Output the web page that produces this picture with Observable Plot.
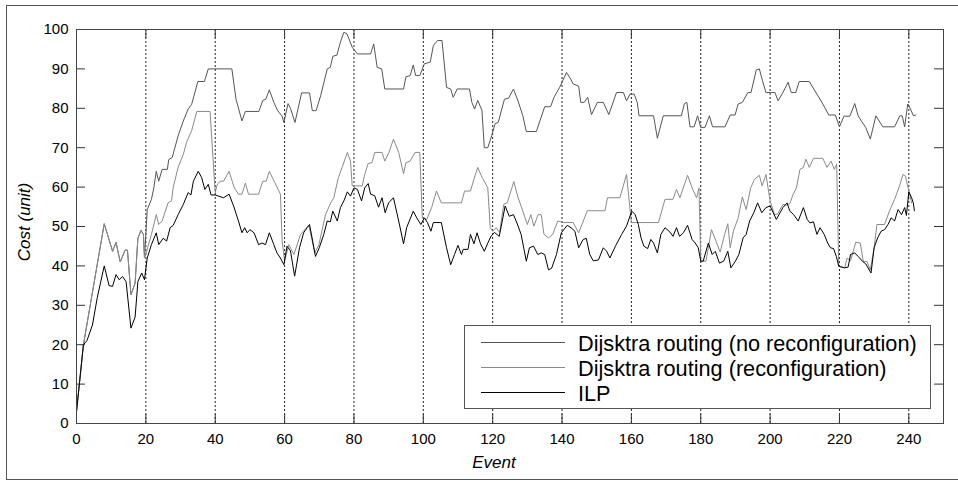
<!DOCTYPE html>
<html><head><meta charset="utf-8">
<script src="https://cdn.jsdelivr.net/npm/d3@7"></script>
<script src="https://cdn.jsdelivr.net/npm/@observablehq/plot@0.6"></script>
<style>
html,body{margin:0;padding:0;background:#fff;overflow:hidden}
#wrap{position:relative;width:958px;height:484px}
#border{position:absolute;left:6px;top:5px;width:970px;height:473px;border:1px solid #555;pointer-events:none}
</style></head>
<body><div id="wrap"><div id="chart"></div><div id="border"></div></div>
<script>
// Series as [event, cost] vertices
const noReconfiguration = [[0,3],[2,20],[8,50.7],[10.4,43.7],[11.4,46],[12.6,41],[14,44],[14.7,44],[15.7,32.7],[16.9,35.6],[17.7,47],[18.6,49],[19.3,48],[19.6,42],
[20.4,54.3],[21.6,56.9],[22.3,59.8],[23,64],[23.7,61.5],[24.7,64.5],[26.2,64.5],[26.6,67],[27.6,67.5],[29.3,73],[30.8,76.8],[32.2,79.8],[33.2,81],[35,86.8],[36.9,86.8],[38,90],[44.8,90],
[46,82.3],[47.7,76.8],[48.7,79.2],[52.6,79.2],[53.7,82],[54.6,82.3],[55.6,84.7],[56.9,81.5],[58,79.4],[59.3,78],[59.8,76.4],[61,81.2],[61.7,80],[63,76.4],[64.9,83.9],[67.2,83.9],[68,79.4],[69.1,79.4],[70.4,83.2],[72.3,90],[73.2,90.4],[73.9,93.2],[75.1,93.5],[76.1,96.8],[77.1,99.3],[78,98.9],[79.5,95.5],
[81,93.8],[84.8,93.8],[85.7,96.3],[86.7,90.4],[88,90],[88.9,84.9],[94.3,84.9],[95,88],[96.2,88.3],[97.1,91],[97.8,88.3],[99,88.3],[100.3,91.3],[102,91.7],[102.9,95.9],[104.1,97.2],[105.4,97.2],[106.7,85.3],[107.9,84.9],[108.6,82.8],[109.8,84.9],[113.3,84.9],[114,81.5],[114.8,79.8],[115.7,82],[116.9,79.5],[117.6,70],[118.6,70],[119.7,73],
[120.7,76.1],[121.6,76.4],[123.4,82.3],[124.6,82.6],[126,84.9],[127.3,81.9],[128.7,78.1],[129.7,74.1],[132.6,74.1],[135,80.4],[136.7,80.4],[137.7,82.8],[139.3,85.3],[141.3,89.1],[142.5,87.4],[143.2,86.2],[144.8,85.6],[145.4,81.5],[146.4,81.5],[147.4,82.8],[148.5,78.4],[150.2,81.5],[151.9,81.5],[153.5,78.4],[155.7,84],[157.7,84],[158.6,81.9],[159.6,83.6],
[160.8,83.6],[161.7,81.5],[162.2,78.1],[166.4,78.1],[167.5,72.4],[169.2,78.1],[174.4,78.1],[175.3,81.2],[176,81.5],[176.9,75.3],[178.1,75.3],[179.1,78.1],[180,75.1],[181.2,75.1],[182.5,78.1],[183.4,75.3],[187,75.3],[188.5,78.3],[189.9,78.3],[190.8,81.1],[192,81.5],[193.6,84],[194.5,84],[196,89.7],[196.9,90],[197.8,87],[198.8,84],
[200.2,84],[201.4,84],[202.3,81.9],[203.7,84],[205.2,86.6],[206.1,84],[207.4,84],[208.4,86.8],[211.3,86.8],[213.5,83.6],[215.2,81.1],[216.9,78.3],[218.8,78.3],[220,75.3],[221.3,78],[223,78],[224.4,81.2],[225.4,78.1],[226.3,76.8],[227.6,75.1],[228.9,72.2],[230.5,78.1],[232.5,75.3],[235.9,75.3],[237.4,78.1],[238.1,78.1],[238.8,75.3],[239.7,81.1],[240.5,79.8],[241.3,78.1],[242,78.3]];

const reconfiguration = [[0,3],[2,20],[8,50.7],[10.4,43.7],[11.4,46],[12.6,41],[14,44],[14.7,44],[15.7,32.7],[16.9,35.6],[17.7,47],[18.6,49],[19.3,48],[19.6,42],
[20,43],[21.6,48],[23,53],[23.7,50.5],[24.7,51.4],[26.4,56],[27.4,56.5],[27.9,60],[29.3,65],[30.8,68.3],[31.7,71.3],[33.2,74.3],[34.7,79.2],[38.5,79.2],[40,58.6],
[40.5,60.5],[41.4,61.5],[42.4,61.5],[44,64],[45.5,59.8],[46.7,58.2],[47.7,58.2],[48.7,61],[49.6,58.2],[52.5,58.2],[53.7,61.5],[54.7,61.5],[55.6,64],[57.2,61.1],[58.8,58.2],[59.3,46.3],[60,41.2],
[61.2,45.4],[62.7,42.9],[64.6,48],[67,50.3],[68.7,43.3],[69.9,45.4],[71.8,53],[73.3,56],[74.2,57.3],[75.5,62.4],[76.6,65],[78.1,68.8],[79,66.6],[79.5,60.3],
[82.4,60.3],[83.1,63.2],[84.1,66],[85.2,66.2],[86,68.8],[88.1,68.8],[88.9,66.6],[90.1,68.8],[91.4,72.2],[92.9,68.8],[94.3,63.4],[95,66.2],[96.2,66.6],[97.6,68.8],[99,68.8],[99.7,52.2],
[101,51.8],[102.4,54.8],[103.8,59],[105.2,56],[111,56],[111.9,59],[113.6,59],[114.6,62],[115.7,65],[117,62.4],[118.6,59.8],[119.3,49.7],
[120,48.8],[121,49.7],[122,48.5],[123.2,55.6],[124.2,56],[126.1,61.4],[127.2,57.7],[128.7,53.9],[130,50.5],[131,53],[131.9,50.1],[133.1,53],[134,53],[134.8,48],[136.1,47.1],[137.3,48],[138.8,51.4],
[140.3,51],[143.2,51],[144.8,48.4],[147.3,54],[152.4,54],[153.1,57.3],[156.7,57.3],[158.6,63.2],[160,51],
[167.8,51],[169.7,56.9],[172,56.9],[173,59.4],[174,57.3],[176.2,63],[177.7,59.4],[178.8,57.3],[179.5,59.8],[180,41.2],
[181.5,41.2],[183.1,49.2],[184.4,46.3],[185.6,43.5],[186.9,48],[187.8,50.7],[188.5,44.6],[189.4,48.8],[190.8,52.2],[192,57.5],[193.1,54.3],[194.4,59.8],[195.5,62],[196.9,63],[197.7,60.3],[198.8,63.2],
[200,56.5],[201.3,53],[202.2,53.2],[203.7,55.6],[204.7,55.4],[205.7,55.8],[206.6,58.1],[207.6,59.8],[208.6,64.5],[209.6,65],[210.3,67.1],[211.3,65],[212.5,67.3],[215.2,67.3],[216.4,65],[217.6,66.6],[218.5,64.5],[219.2,65.8],[219.8,39.9],
[221.5,39.5],[222.2,42],[223.2,41.3],[224.7,46],[226,45.8],[226.9,41],[227.9,41.2],[228.9,39],[230,44.6],[230.8,50.5],[233,50.5],[234.4,53.9],[235.9,56.9],[237.4,60.5],[238.3,63.2],[239,62.8],[240,59],[240.8,56]];

const ilp = [[0,3],[2,20],[3,21],[4.6,25],[6,32],[8,40],[9.4,35],[10.4,34.8],[11.4,37.8],[12.3,36.5],[13.3,37.3],[14.3,36],[15.7,24.2],[16.9,27],[17.7,36],[18.8,38.2],[19.6,36.5],
[20.4,42],[21.6,45.4],[23,48.4],[23.7,45.4],[25,47],[26,46.3],[27,49.7],[27.9,50.3],[29.3,53],[30.8,55.6],[32.2,58.6],[33,58],[33.7,61.5],[35.1,64],[36.1,62.4],[37,59.4],[38,60.7],[38.8,58],
[40,58],[42.4,57.3],[44,58.2],[45.3,55.2],[46.7,51.4],[47.7,48.4],[48.5,49.7],[49.2,48.4],[50,49.2],[51.2,48.4],[52.5,45.4],[53.5,45.8],[54.5,45.4],[55.6,48.4],[56.9,45.4],[57.8,43.3],[58.8,42],[59.8,40.3],
[60.7,45],[61.7,43.8],[62.9,37.4],[64.3,44.6],[65.5,48.4],[66.5,49.7],[67.2,50.5],[68.1,46.3],[68.9,42.4],[70,44.6],[71.3,48],[72.3,51.4],[73.2,51.2],[73.9,53.9],[75.2,51.4],[76.1,54.8],[77.1,56.5],[78.1,58.8],[79,57.7],
[80,59.8],[81,59.4],[82.2,56.5],[83.1,59.8],[84.1,60.9],[84.8,58.2],[86,57.8],[87.1,54.9],[88.1,57.3],[89,53.5],[90,56],[91.4,57.3],[92.9,51.4],[94.3,45.6],[95.2,49.7],[97.1,53.9],[98.1,52.2],[99.3,50.5],
[100.3,52.2],[101.2,51],[102.2,48.8],[102.9,51],[105.2,51],[106.7,44.6],[107.9,40.3],[109,42.9],[110,45.2],[111,42.9],[111.5,44.2],[112.9,44.2],[113.6,48],[114.6,45.6],[115.5,48.4],[116.5,45.6],[117.6,43.7],[118.6,45.8],[119.5,47.5],
[120.5,48.5],[121.9,47.5],[123.6,55.2],[124.8,52.6],[126,53],[127,50.9],[128.2,48],[129.7,41.2],[130.6,44.6],[131.8,45],[133,42.9],[134,43.3],[135,42.9],[136.1,39],[137,39.4],[138.4,42.9],[139.8,48.4],
[141.5,50.3],[142.6,49.7],[143.7,48.8],[144.8,44.6],[146.1,46.7],[147,47],[148,42.9],[149,41.3],[150.5,41.5],[151.9,44.6],[152.9,43.7],[153.8,42],[155.5,45.2],[157.2,48],[158.6,50.1],
[160.1,53.9],[161.1,53],[162,50.5],[162.8,47.1],[163.6,45],[164.7,44.4],[165.6,46.7],[166.4,45.8],[167.5,43.3],[168.5,48],[169.7,49.7],[171.1,48.6],[172,47.5],[173,49.7],[173.9,47.5],[175,48.4],[176.2,50.3],[177.5,46.7],[178.4,45.8],[179.3,44.6],
[180,41.2],[180.7,41.2],[182.2,45.8],[183.3,42.9],[184.2,43.7],[185.4,40.7],[186.6,41.2],[187.8,43.7],[188.7,39.5],[190,41.2],[191,42.9],[192.2,47.1],[193.1,48],[194.1,51.4],[195.3,53.5],[196.4,56],[197.6,53.5],[198.8,54.8],
[200,55.2],[200.9,53.5],[201.8,51.8],[203.7,54.8],[204.9,56],[205.7,53.9],[206.8,53],[208.1,51.4],[209.6,54.8],[210.7,51.8],[211.5,50.9],[212.5,51.2],[213.5,48],[214.4,49.7],[215.6,48],[216.6,45.8],[217.4,44.6],[218.3,44.4],[219.1,42.4],
[219.8,39.9],[220.7,39.7],[221.5,39.5],[222.5,39.7],[223.2,42.9],[224.4,43.3],[225.4,42.4],[226.6,41.2],[227.6,40.5],[229.1,38.2],[230,44.6],[231,47.1],[232,48.8],[233,49.2],[234,50.5],[234.9,52.2],[235.9,51.4],[236.9,54.3],[237.9,53],[238.8,54.8],[239.3,52.8],[240,58.8],[240.8,57.3],[241.3,56],[241.6,54]];

const seriesNames = ["Dijsktra routing (no reconfiguration)", "Dijsktra routing (reconfiguration)", "ILP"];
const seriesColors = ["#555555", "#8a8a8a", "#000000"];
const xTicks = [0,20,40,60,80,100,120,140,160,180,200,220,240];
const yTicks = [0,10,20,30,40,50,60,70,80,90,100];
const gridEvents = [20,40,60,80,100,120,140,160,180,200,220,240];
const xLabel = "Event";
const yLabel = "Cost (unit)";

const font = "'Liberation Sans', Arial, Helvetica, sans-serif";
const series = [noReconfiguration, reconfiguration, ilp];

const W = 958, H = 484, mL = 76, mR = 15, mT = 29, mB = 61;
const frameW = W - mL - mR, frameH = H - mT - mB, tickLen = 9;

const plot = Plot.plot({
  width: W, height: H,
  marginLeft: mL, marginRight: mR, marginTop: mT, marginBottom: mB,
  style: {fontFamily: font, fontSize: "15px", color: "#000", background: "#fff", overflow: "visible"},
  x: {domain: [0, 250]},
  y: {domain: [0, 100]},
  marks: [
    Plot.ruleX(gridEvents, {x: d => d, stroke: "#222", strokeDasharray: "2,2", strokeWidth: 1}),
    Plot.axisX(xTicks, {anchor: "bottom", tickSize: 0, tickPadding: 10, label: null, fontSize: 15}),
    Plot.axisY(yTicks, {anchor: "left", tickSize: 0, tickPadding: 8, label: null, fontSize: 15}),
    // inward ticks on all four sides
    Plot.tickX(xTicks, {x: d => d, insetTop: frameH - tickLen, stroke: "#333"}),
    Plot.tickX(xTicks, {x: d => d, insetBottom: frameH - tickLen, stroke: "#333"}),
    Plot.tickY(yTicks, {y: d => d, insetRight: frameW - tickLen, stroke: "#333"}),
    Plot.tickY(yTicks, {y: d => d, insetLeft: frameW - tickLen, stroke: "#333"}),
    ...series.map((s, i) => Plot.line(s, {x: d => d[0], y: d => d[1], stroke: seriesColors[i], strokeWidth: 1})),
    Plot.frame({stroke: "#444", strokeWidth: 1})
  ]
});
document.getElementById("chart").appendChild(plot);

// Axis titles and legend
const svg = d3.select(plot);
svg.append("text").attr("x", 494).attr("y", 468).attr("text-anchor", "middle")
  .attr("font-family", font).attr("font-size", 17).attr("font-style", "italic").attr("fill", "#000").text(xLabel);
svg.append("text").attr("transform", "translate(30,222) rotate(-90)").attr("text-anchor", "middle")
  .attr("font-family", font).attr("font-size", 17).attr("font-style", "italic").attr("fill", "#000").text(yLabel);

const lg = svg.append("g");
lg.append("rect").attr("x", 464.5).attr("y", 325.5).attr("width", 466).attr("height", 83)
  .attr("fill", "#fff").attr("stroke", "#555").attr("stroke-width", 1);
seriesNames.forEach((name, i) => {
  const y = 342 + i * 25;
  lg.append("line").attr("x1", 481).attr("x2", 565).attr("y1", y + 0.5).attr("y2", y + 0.5)
    .attr("stroke", seriesColors[i]).attr("stroke-width", 1);
  lg.append("text").attr("x", 578).attr("y", y + 8.5).attr("text-anchor", "start")
    .attr("font-family", font).attr("font-size", 21.7).attr("fill", "#000").text(name);
});
</script>
</body></html>
